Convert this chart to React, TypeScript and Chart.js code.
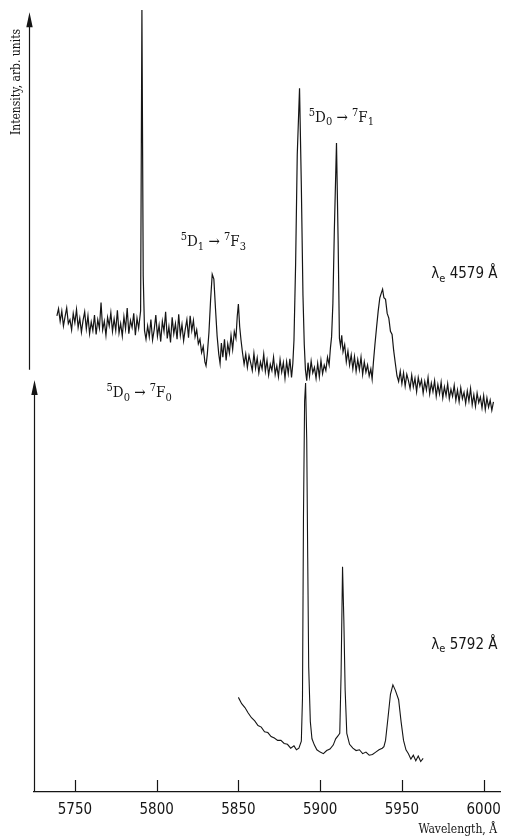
import React, { useEffect, useRef } from "react";
import { Chart, registerables } from "chart.js";

Chart.register(...registerables);

// Upper spectrum (excitation 4579 Å), wavelength in Å
const upperWave = [
  5739, 5740, 5741, 5742, 5743, 5744, 5745, 5746, 5747, 5748, 5749, 5750, 5751, 5752, 5753, 5754,
  5755, 5756, 5757, 5758, 5759, 5760, 5761, 5762, 5763, 5764, 5765, 5766, 5767, 5768, 5769, 5770,
  5771, 5772, 5773, 5774, 5775, 5776, 5777, 5778, 5779, 5780, 5781, 5782, 5783, 5784, 5785, 5786,
  5787, 5788, 5789, 5790.2, 5791, 5791.8, 5792.6,
  5793.5, 5794.5, 5795.5, 5796.5, 5797.5, 5798.5, 5799.5, 5800.5, 5801.5, 5802.5, 5803.5, 5804.5,
  5805.5, 5806.5, 5807.5, 5808.5, 5809.5, 5810.5, 5811.5, 5812.5, 5813.5, 5814.5, 5815.5, 5816.5,
  5817.5, 5818.5, 5819.5, 5820.5, 5821.5, 5822.5, 5823.5, 5824.5, 5825.5, 5826.5, 5827.5, 5828.5,
  5829.5, 5830.2, 5831, 5832, 5833, 5834, 5835, 5836, 5837, 5838, 5838.8, 5839.6, 5840.5, 5841.5,
  5842.5, 5843.5, 5844.5, 5845.5, 5846.5, 5847.5, 5848.5, 5849.3, 5850, 5850.8, 5851.6, 5852.5,
  5853.5, 5854.5, 5855.5, 5856.5, 5857.5, 5858.5, 5859.5, 5860.5, 5861.5, 5862.5, 5863.5, 5864.5,
  5865.5, 5866.5, 5867.5, 5868.5, 5869.5, 5870.5, 5871.5, 5872.5, 5873.5, 5874.5, 5875.5, 5876.5,
  5877.5, 5878.5, 5879.5, 5880.5, 5881.5, 5882.5, 5883.3, 5884, 5885, 5886, 5887.4, 5888.5, 5889.5,
  5890.3, 5891, 5891.8, 5892.6, 5893.5, 5894.5, 5895.5, 5896.5, 5897.5, 5898.5, 5899.5, 5900.5,
  5901.5, 5902.5, 5903.5, 5904.5, 5905.5, 5906.3, 5907, 5907.8, 5908.7, 5910, 5911, 5911.8, 5912.5,
  5913.2, 5914, 5915, 5916, 5917, 5918, 5919, 5920, 5921, 5922, 5923, 5924, 5925, 5926, 5927, 5928,
  5929, 5930, 5931, 5931.8, 5932.6, 5933.5, 5934.5, 5935.5, 5936.5, 5937.4, 5938.2, 5939, 5940,
  5941, 5942, 5943, 5944, 5945, 5946, 5947, 5948, 5949, 5950, 5951, 5952, 5953, 5954, 5955, 5956,
  5957, 5958, 5959, 5960, 5961, 5962, 5963, 5964, 5965, 5966, 5967, 5968, 5969, 5970, 5971, 5972,
  5973, 5974, 5975, 5976, 5977, 5978, 5979, 5980, 5981, 5982, 5983, 5984, 5985, 5986, 5987, 5988,
  5989, 5990, 5991, 5992, 5993, 5994, 5995, 5996, 5997, 5998, 5999, 6000, 6001, 6002, 6003, 6004,
  6005, 6006,
];
const upperIntensity = [
  60.9, 61.8, 60.2, 61.5, 59.6, 60.8, 61.9, 59.9, 60.4, 59.1, 61.2, 60.0, 61.7, 59.4, 60.6, 58.8,
  60.3, 61.4, 59.2, 60.9, 58.6, 60.1, 59.0, 61.0, 58.5, 60.4, 59.3, 62.6, 59.1, 60.2, 58.4, 60.7,
  59.6, 61.3, 58.9, 60.5, 59.0, 61.6, 58.7, 59.9, 58.3, 60.8, 59.2, 61.9, 58.6, 60.3, 59.4, 61.2,
  58.4, 60.6, 59.3, 61.5, 100.0, 66.0, 59.0,
  57.9, 59.6, 58.2, 60.4, 57.8, 59.1, 61.0, 58.3, 59.7, 57.6, 60.2, 58.9,
  61.4, 58.0, 59.5, 57.5, 60.7, 58.6, 59.9, 57.9, 61.1, 58.4, 59.8, 57.7,
  59.2, 60.4, 58.1, 60.9, 59.0, 60.3, 58.2, 59.1, 57.3, 57.9, 56.2, 57.0,
  55.0, 54.5, 56.0, 58.8, 62.9, 66.2, 65.6, 61.8, 58.3, 56.0, 54.8, 57.4, 55.6, 57.9,
  55.2, 57.3, 56.1, 58.4, 56.6, 58.9, 58.0, 60.8, 62.4, 59.5, 57.8, 56.2,
  54.7, 56.0, 54.3, 55.8, 54.9, 53.9, 56.1, 54.2, 55.5, 53.6, 55.0, 54.1,
  56.0, 53.8, 55.2, 53.3, 54.7, 53.9, 55.6, 53.4, 54.5, 53.1, 55.3, 53.7,
  54.9, 52.9, 55.0, 53.5, 55.4, 53.0, 54.8, 57.8, 67.5, 81.5, 90.0, 77.5, 63.5,
  57.2, 54.0, 52.6, 54.9, 53.2, 55.1, 53.6, 54.3, 52.9, 54.8, 53.1, 55.2,
  53.5, 54.6, 53.9, 55.6, 54.6, 56.8, 58.2, 62.5, 72.0, 83.0, 70.5, 58.0, 57.0,
  58.4, 56.3, 57.2, 55.0, 56.4, 54.6, 55.9, 54.1, 55.7, 53.8, 55.3, 54.0, 55.6, 53.4, 55.0, 53.7,
  54.6, 53.2, 54.1, 52.8, 55.0, 57.2, 59.4, 61.5, 63.2, 63.8, 64.3, 63.2, 63.0,
  61.2, 60.6, 58.9, 58.5, 56.4, 54.8, 53.2, 52.5, 53.8, 52.2, 53.6, 51.9, 53.4, 52.6, 51.6, 53.3,
  51.8, 52.9, 51.2, 53.0, 51.9, 52.7, 51.0, 52.5, 51.4, 53.0, 50.9, 52.3, 51.2, 52.6, 50.6, 52.1,
  50.9, 52.4, 50.4, 51.8, 50.7, 52.2, 50.3, 51.5, 50.6, 52.0, 50.1, 51.4, 49.9, 51.7, 50.3, 51.1,
  49.7, 51.3, 50.0, 51.6, 49.5, 50.8, 49.3, 51.0, 49.8, 50.5, 49.1, 50.7, 48.9, 50.4, 49.2, 50.1,
  48.8, 49.9,
];

// Lower spectrum (excitation 5792 Å)
const lowerWave = [
  5850, 5852, 5854, 5856, 5858, 5860, 5862, 5864, 5866, 5868, 5870, 5872, 5874, 5876, 5878,
  5880, 5882, 5884, 5885.5, 5887, 5888.5, 5889.2, 5889.8, 5890.5, 5891.1, 5891.8, 5892.4, 5893,
  5894, 5895, 5896.5, 5898, 5900, 5902, 5904, 5906, 5908, 5909.5, 5911, 5912, 5912.8, 5913.7,
  5914.5, 5915.3, 5916.3, 5918, 5920, 5922, 5924, 5926, 5928, 5930, 5932, 5934, 5936, 5938, 5939,
  5940, 5941.5, 5943, 5944.5, 5946, 5948, 5949.5, 5951, 5952.5, 5954, 5955.5, 5957, 5958.5, 5960,
  5961.5, 5963,
];
const lowerIntensity = [
  12.1, 11.3, 10.8, 10.1, 9.5, 9.1, 8.5, 8.3, 7.7, 7.6, 7.1, 6.9, 6.6, 6.6, 6.2,
  6.1, 5.6, 5.9, 5.4, 5.6, 6.5, 12.0, 35.0, 50.0, 52.3, 45.0, 30.0, 16.0,
  9.0, 6.8, 6.0, 5.4, 5.1, 4.9, 5.3, 5.5, 6.0, 6.8, 7.2, 7.5, 15.0, 28.8,
  22.0, 13.0, 7.5, 6.1, 5.6, 5.3, 5.4, 4.9, 5.1, 4.7, 4.8, 5.1, 5.4, 5.6, 5.8,
  6.6, 9.5, 12.5, 13.7, 13.0, 11.8, 9.0, 6.6, 5.4, 4.9, 4.2, 4.7, 4.0, 4.6,
  3.9, 4.3,
];

const xTicks = [5750, 5800, 5850, 5900, 5950, 6000];
const xMin = 5725;
const xMax = 6010;

const yLabel = "Intensity, arb. units";
const xLabel = "Wavelength, Å";

// annotations: markup ^ = superscript char, _ = subscript char
const annotations = [
  { text: "^5D_1 → ^7F_3", wave: 5834.7, value: 70.3, align: "center", font: "serif" },
  { text: "^5D_0 → ^7F_1", wave: 5913, value: 86.2, align: "center", font: "serif" },
  { text: "^5D_0 → ^7F_0", wave: 5789.3, value: 51.0, align: "center", font: "serif" },
  { text: "λ_e 4579 Å", wave: 6008.5, value: 66.2, align: "right", font: "sans" },
  { text: "λ_e 5792 Å", wave: 6008.5, value: 18.8, align: "right", font: "sans" },
];

const SERIF = "'DejaVu Serif Condensed', 'Liberation Serif', serif";
const NARROW = "'Liberation Sans Narrow', 'DejaVu Sans Condensed', 'Liberation Sans', sans-serif";
const INK = "#151515";

type Seg = { t: string; kind: "n" | "sup" | "sub" };

function parseMarkup(s: string): Seg[] {
  const out: Seg[] = [];
  for (let i = 0; i < s.length; i++) {
    const c = s[i];
    if (c === "^" && i + 1 < s.length) {
      out.push({ t: s[i + 1], kind: "sup" });
      i++;
    } else if (c === "_" && i + 1 < s.length) {
      out.push({ t: s[i + 1], kind: "sub" });
      i++;
    } else {
      const last = out[out.length - 1];
      if (last && last.kind === "n") last.t += c;
      else out.push({ t: c, kind: "n" });
    }
  }
  return out;
}

function drawRich(ctx: CanvasRenderingContext2D, text: string, x: number, y: number, align: string, family: string, size: number) {
  const segs = parseMarkup(text);
  const small = Math.round(size * 0.72);
  const fontFor = (k: string) => `${k === "n" ? size : small}px ${family}`;
  let total = 0;
  const widths = segs.map((sg) => {
    ctx.font = fontFor(sg.kind);
    const w = ctx.measureText(sg.t).width;
    total += w;
    return w;
  });
  let cx = align === "right" ? x - total : align === "center" ? x - total / 2 : x;
  ctx.textBaseline = "middle";
  ctx.textAlign = "left";
  segs.forEach((sg, i) => {
    ctx.font = fontFor(sg.kind);
    const dy = sg.kind === "sup" ? -size * 0.32 : sg.kind === "sub" ? size * 0.3 : 0;
    ctx.fillText(sg.t, cx, y + dy);
    cx += widths[i];
  });
}

const decorPlugin = {
  id: "decor",
  afterDraw(chart: any) {
    const { ctx, chartArea } = chart;
    const xs = chart.scales.x;
    const ys = chart.scales.y;
    ctx.save();
    ctx.strokeStyle = INK;
    ctx.fillStyle = INK;
    ctx.lineWidth = 1.2;

    // inner tick marks on the wavelength axis
    xTicks.forEach((t) => {
      const px = Math.round(xs.getPixelForValue(t)) + 0.5;
      ctx.beginPath();
      ctx.moveTo(px, chartArea.bottom);
      ctx.lineTo(px, chartArea.bottom - 12);
      ctx.stroke();
    });

    const arrowAxis = (px: number, yFrom: number, yTip: number) => {
      ctx.beginPath();
      ctx.moveTo(px, yFrom);
      ctx.lineTo(px, yTip + 8);
      ctx.stroke();
      ctx.beginPath();
      ctx.moveTo(px, yTip);
      ctx.lineTo(px - 3.2, yTip + 15);
      ctx.lineTo(px + 3.2, yTip + 15);
      ctx.closePath();
      ctx.fill();
    };
    // upper spectrum axis
    arrowAxis(chartArea.left - 4.5, ys.getPixelForValue(54), ys.getPixelForValue(99.7));
    // lower spectrum axis
    arrowAxis(chartArea.left + 0.5, chartArea.bottom, ys.getPixelForValue(52.7));

    // annotations
    annotations.forEach((a) => {
      const px = xs.getPixelForValue(a.wave);
      const py = ys.getPixelForValue(a.value);
      if (a.font === "serif") drawRich(ctx, a.text, px, py, a.align, SERIF, 15);
      else drawRich(ctx, a.text, px, py, a.align, NARROW, 15);
    });

    // y label
    ctx.save();
    ctx.translate(17, 82);
    ctx.rotate(-Math.PI / 2);
    ctx.font = `12px ${SERIF}`;
    ctx.textAlign = "center";
    ctx.textBaseline = "middle";
    ctx.fillText(yLabel, 0, 0);
    ctx.restore();

    // x label
    ctx.font = `12px ${SERIF}`;
    ctx.textAlign = "right";
    ctx.textBaseline = "middle";
    ctx.fillText(xLabel, chartArea.right - 3, 830);

    ctx.restore();
  },
};

export default function App() {
  const ref = useRef<HTMLCanvasElement | null>(null);
  useEffect(() => {
    document.body.style.margin = "0";
    if (!ref.current) return;
    const chart = new Chart(ref.current, {
      type: "line",
      data: {
        datasets: [
          {
            data: upperWave.map((w, i) => ({ x: w, y: upperIntensity[i] })),
            borderColor: INK,
            borderWidth: 1.2,
            pointRadius: 0,
            tension: 0,
          },
          {
            data: lowerWave.map((w, i) => ({ x: w, y: lowerIntensity[i] })),
            borderColor: INK,
            borderWidth: 1.1,
            pointRadius: 0,
            tension: 0,
          },
        ],
      },
      options: {
        animation: false,
        responsive: true,
        maintainAspectRatio: false,
        layout: { padding: { left: 34, right: 5, top: 10, bottom: 0 } },
        plugins: { legend: { display: false }, tooltip: { enabled: false } },
        scales: {
          x: {
            type: "linear",
            min: xMin,
            max: xMax,
            afterBuildTicks: (s: any) => {
              s.ticks = xTicks.map((v) => ({ value: v }));
            },
            afterFit: (s: any) => {
              s.height = 48;
            },
            grid: { display: false },
            border: { display: true, color: INK, width: 1.3 },
            ticks: {
              color: INK,
              font: { family: NARROW, size: 15 },
              padding: 1,
              autoSkip: false,
              maxRotation: 0,
              callback: (v: any) => String(v),
            },
          },
          y: { display: false, min: 0, max: 100 },
        },
      } as any,
      plugins: [decorPlugin],
    });
    return () => chart.destroy();
  }, []);
  return (
    <div style={{ position: "relative", width: 505, height: 840, background: "#fff" }}>
      <canvas ref={ref} />
    </div>
  );
}
